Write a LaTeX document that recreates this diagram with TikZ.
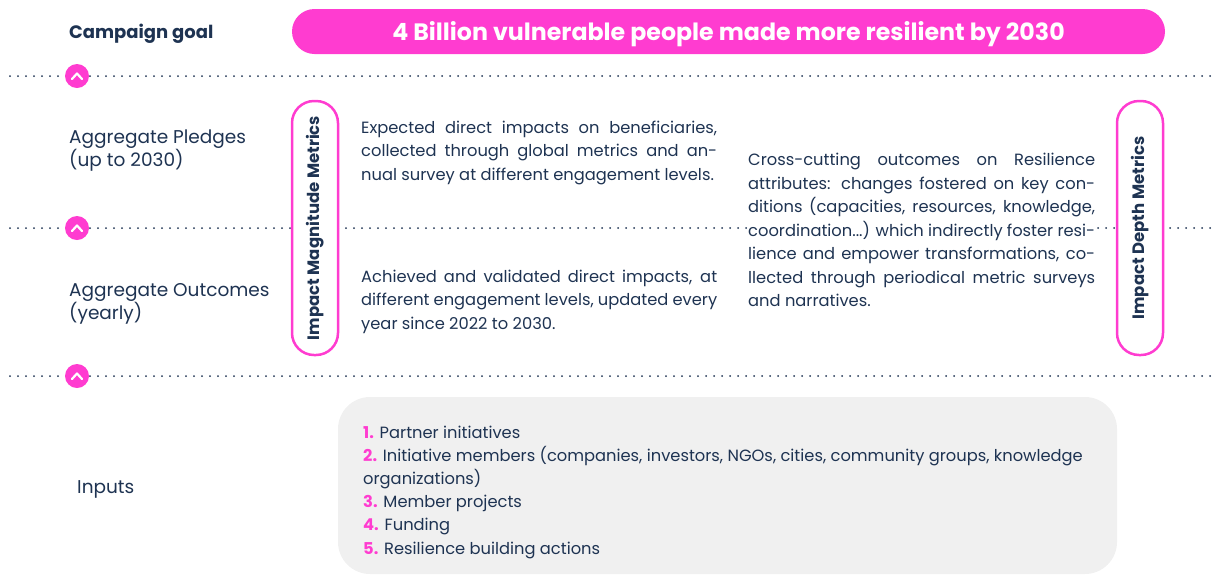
\documentclass[tikz,border=0pt]{standalone}
\usepackage{fontspec}
\setmainfont{Poppins}
\definecolor{camppink}{HTML}{FF3CD0}
\definecolor{navy}{HTML}{1E3352}
\definecolor{boxgray}{HTML}{F0F0F0}
\tikzset{
	dotline/.style={navy, line width=2pt, line cap=round, dash pattern=on 0pt off 8pt},
	chevdot/.style={circle, fill=camppink, minimum size=24pt, inner sep=0pt},
	chevmark/.style={white, line width=2.2pt, line cap=round, line join=round},
	vpill/.style={draw=camppink, line width=2.5pt, fill=white, rounded corners=22pt, minimum width=254pt, minimum height=46pt, rotate=90, text=navy, font=\fontsize{16.5}{19}\selectfont\bfseries},
	lbl/.style={text=navy, anchor=west, align=left, inner sep=0pt, font=\fontsize{18.5}{23}\selectfont},
	bodytxt/.style={text=navy, anchor=west, align=left, inner sep=0pt, font=\fontsize{16.3}{23.5}\selectfont},
}
\newcommand{\jline}[2]{\makebox[#1][s]{#2}}
\newcommand{\pnum}[1]{\textcolor{camppink}{\bfseries #1}}
\begin{document}
\begin{tikzpicture}[x=1pt, y=-1pt]
\useasboundingbox (0,0) rectangle (1215,574);
% goal row
\node[text=navy, anchor=west, inner sep=0pt, font=\fontsize{18}{21}\selectfont\bfseries] (goallbl) at (69,34) {Campaign goal};
\node[fill=camppink, rounded corners=22.5pt, minimum width=873pt, minimum height=45pt, text height=17pt, text depth=0pt, text=white, font=\fontsize{23.7}{27}\selectfont\bfseries] (goal) at (728.5,31.5) {4 Billion vulnerable people made more resilient by 2030};
% separators
\foreach \yy/\nm in {76/a,228/b,376/c}{
	\draw[dotline] (10,\yy) -- (1215,\yy);
	\node[chevdot] (chev\nm) at (77,\yy) {};
	\draw[chevmark] ([shift={(-5,3)}]chev\nm.center) -- ([shift={(0,-2.5)}]chev\nm.center) -- ([shift={(5,3)}]chev\nm.center);
}
% row labels
\node[lbl] (pledges) at (69,151) {Aggregate Pledges\\(up to 2030)};
\node[lbl] (outcomes) at (69,304) {Aggregate Outcomes\\(yearly)};
\node[lbl] (inputs) at (77,489) {Inputs};
% metric pills
\node[vpill] (magnitude) at (315,228) {Impact Magnitude Metrics};
\node[vpill] (depth) at (1140,228) {Impact Depth Metrics};
% descriptions
\node[bodytxt] (expected) at (361,152.5) {\jline{356pt}{Expected direct impacts on beneficiaries,}\\
\jline{356pt}{collected through global metrics and an-}\\
nual survey at different engagement levels.};
\node[bodytxt] (achieved) at (361,301.5) {\jline{356pt}{Achieved and validated direct impacts, at}\\
\jline{356pt}{different engagement levels, updated every}\\
year since 2022 to 2030.};
\node[bodytxt, fill=white] (crosscut) at (748,230) {\jline{347pt}{Cross-cutting outcomes on Resilience}\\
\jline{347pt}{attributes: changes fostered on key con-}\\
\jline{347pt}{ditions (capacities, resources, knowledge,}\\
\jline{347pt}{coordination...) which indirectly foster resi-}\\
\jline{347pt}{lience and empower transformations, co-}\\
\jline{347pt}{llected through periodical metric surveys}\\
and narratives.};
% inputs box
\draw[fill=boxgray, draw=none, rounded corners=32pt] (338,397) rectangle (1117,574);
\node[bodytxt, font=\fontsize{16.3}{23.2}\selectfont] (inputlist) at (363,492) {\pnum{1.} Partner initiatives\\
\pnum{2.} Initiative members (companies, investors, NGOs, cities, community groups, knowledge\\
organizations)\\
\pnum{3.} Member projects\\
\pnum{4.} Funding\\
\pnum{5.} Resilience building actions};
\end{tikzpicture}
\end{document}
